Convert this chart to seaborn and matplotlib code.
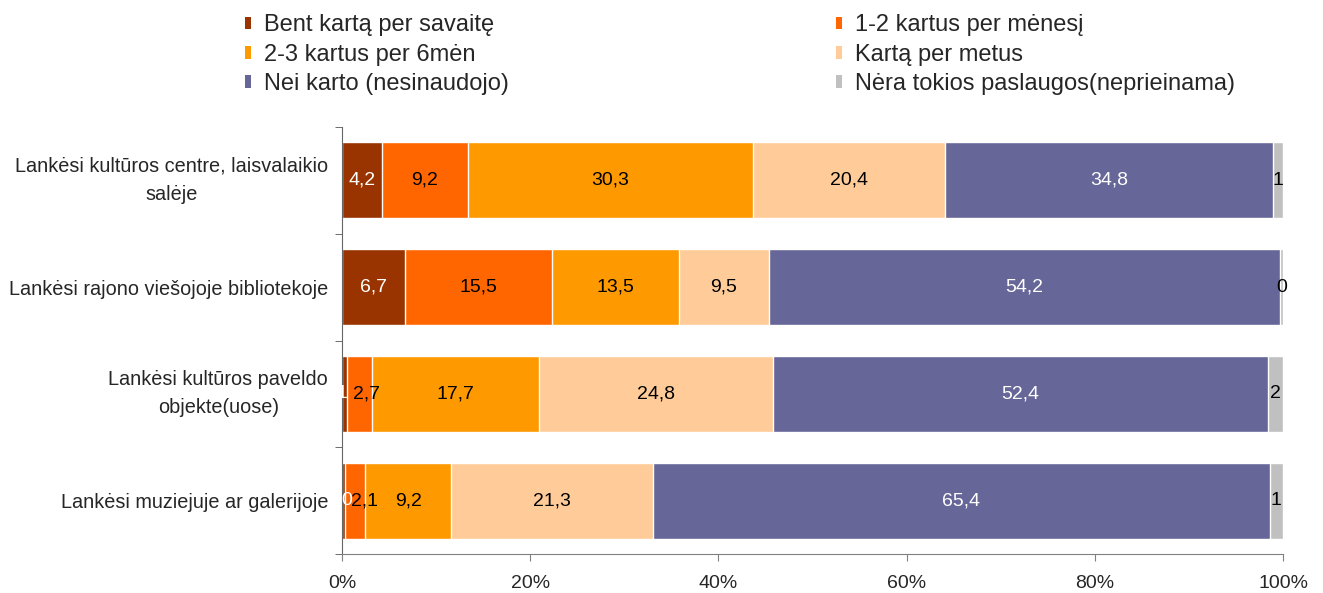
import numpy as np
import pandas as pd
import matplotlib
matplotlib.use("Agg")
import matplotlib.pyplot as plt
import seaborn as sns
from matplotlib.patches import Patch

categories = [
    "Lankėsi kultūros centre, laisvalaikio\nsalėje",
    "Lankėsi rajono viešojoje bibliotekoje",
    "Lankėsi kultūros paveldo\nobjekte(uose)",
    "Lankėsi muziejuje ar galerijoje",
]
series = [
    "Bent kartą per savaitę",
    "1-2 kartus per mėnesį",
    "2-3 kartus per 6mėn",
    "Kartą per metus",
    "Nei karto (nesinaudojo)",
    "Nėra tokios paslaugos(neprieinama)",
]
colors = ["#993300", "#FF6600", "#FF9900", "#FFCC99", "#666699", "#C0C0C0"]

# values per series (one entry per category)
weekly = [4.2, 6.7, 0.5, 0.3]
monthly = [9.2, 15.5, 2.7, 2.1]
half_year = [30.3, 13.5, 17.7, 9.2]
yearly = [20.4, 9.5, 24.8, 21.3]
never = [34.8, 54.2, 52.4, 65.4]
unavailable = [1.1, 0.3, 1.6, 1.4]

# labels as they are printed on the bars
weekly_lbl = ["4,2", "6,7", "1", "0"]
monthly_lbl = ["9,2", "15,5", "2,7", "2,1"]
half_year_lbl = ["30,3", "13,5", "17,7", "9,2"]
yearly_lbl = ["20,4", "9,5", "24,8", "21,3"]
never_lbl = ["34,8", "54,2", "52,4", "65,4"]
unavailable_lbl = ["1", "0", "2", "1"]

vals = np.array([weekly, monthly, half_year, yearly, never, unavailable])
lbls = [weekly_lbl, monthly_lbl, half_year_lbl, yearly_lbl, never_lbl, unavailable_lbl]
pct = vals / vals.sum(axis=0) * 100
cum = pct.cumsum(axis=0)

# small horizontal nudges (points) for crowded labels, like Excel does
nudge = {(0, 2): -2, (0, 3): 2, (1, 2): 5, (1, 3): 7}

sns.set_style("white")
plt.rcParams['font.family'] = ['Liberation Sans', 'DejaVu Sans']

fig = plt.figure(figsize=(13.23, 5.93), dpi=100)
ax = fig.add_axes([342 / 1323, 1 - 554 / 593, 941 / 1323, 427 / 593])

# stacked bars: draw cumulative totals from the widest down
for i in range(len(series) - 1, -1, -1):
    df = pd.DataFrame({"cat": categories, "val": cum[i]})
    sns.barplot(data=df, x="val", y="cat", color=colors[i], width=0.71,
                edgecolor="white", linewidth=1, ax=ax, saturation=1)

for i in range(len(series)):
    start = cum[i] - pct[i]
    tc = "white" if i in (0, 4) else "black"
    for j in range(len(categories)):
        ax.annotate(lbls[i][j], (start[j] + pct[i][j] / 2, j),
                    xytext=(nudge.get((i, j), 0), 0), textcoords="offset points",
                    ha="center", va="center", fontsize=14, color=tc)

ax.set_xlim(0, 100)
ax.set_ylim(3.5, -0.5)
ax.set_xticks([0, 20, 40, 60, 80, 100])
ax.set_xticklabels(["0%", "20%", "40%", "60%", "80%", "100%"], fontsize=14)
ax.set_yticks(range(len(categories)))
ax.set_yticklabels(categories, fontsize=14.3, multialignment="center", linespacing=1.6)
for t in ax.get_yticklabels():
    if "\n" in t.get_text():
        t.set_va("center")
ax.set_yticks([-0.5, 0.5, 1.5, 2.5, 3.5], minor=True)
ax.tick_params(axis="y", which="major", length=0, pad=10)
ax.tick_params(axis="y", which="minor", length=5, color="#555555", direction="out", left=True)
ax.tick_params(axis="x", length=5, color="#808080", direction="out", bottom=True, pad=10)
ax.set_xlabel("")
ax.set_ylabel("")
for s in ["top", "right"]:
    ax.spines[s].set_visible(False)
ax.spines["left"].set_color("#666666")
ax.spines["bottom"].set_color("#808080")

order = [0, 2, 4, 1, 3, 5]
handles = [Patch(facecolor=colors[k], edgecolor="none") for k in order]
fig.legend(handles, [series[k] for k in order], ncol=2, loc="upper left",
           bbox_to_anchor=(236 / 1323, 1 - 5 / 593), frameon=False,
           fontsize=17, handlelength=0.25, handleheight=0.45, handletextpad=0.55,
           labelspacing=0.31, columnspacing=13.85, borderaxespad=0)

fig.savefig("out.png", dpi=100)
